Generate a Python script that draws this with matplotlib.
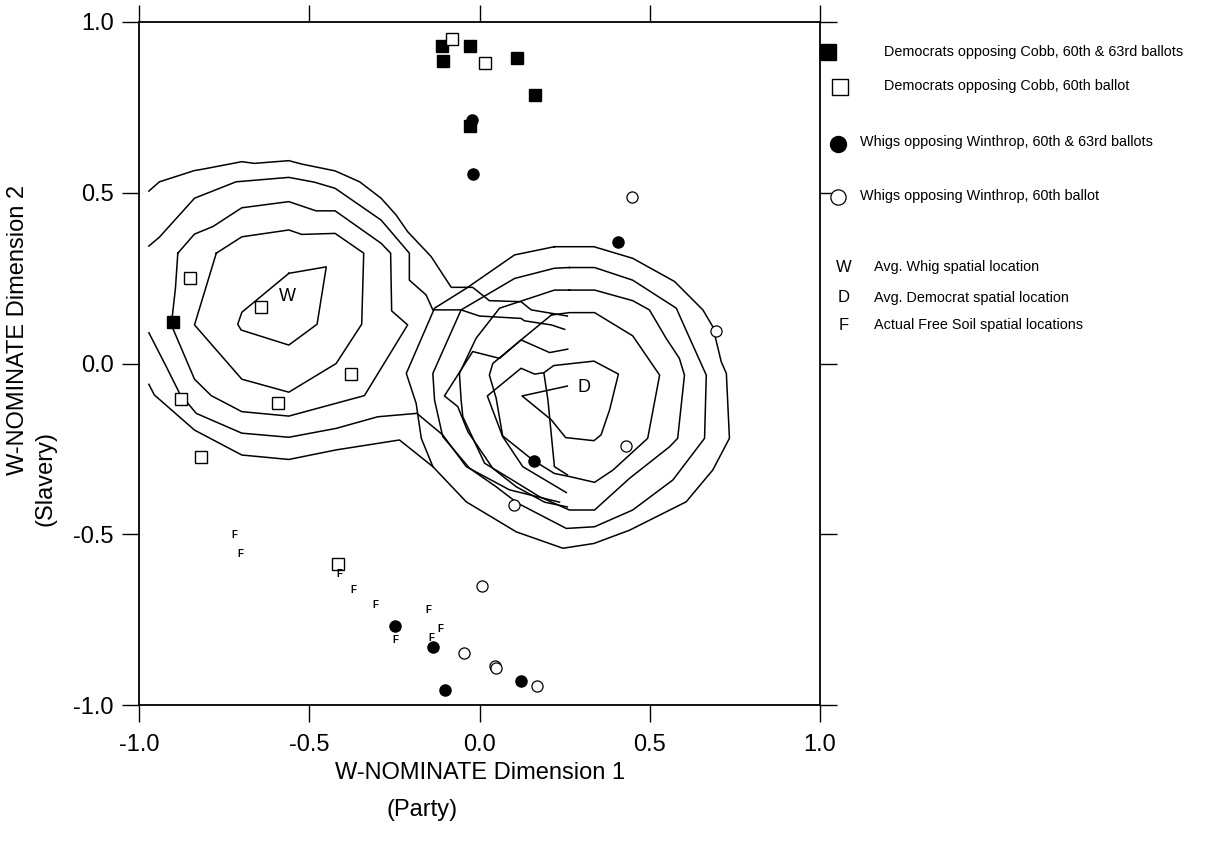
import matplotlib
matplotlib.use("Agg")
import matplotlib.pyplot as plt

plt.rcParams['font.family'] = ['Liberation Sans', 'DejaVu Sans']
plt.rcParams['axes.unicode_minus'] = False

# Legislator positions (W-NOMINATE dims 1 and 2)
dem_both_x = [-0.110, -0.029, -0.108, 0.111, 0.164, -0.029, -0.901]
dem_both_y = [0.930, 0.931, 0.887, 0.895, 0.786, 0.695, 0.122]

dem_60_x = [-0.080, 0.016, -0.849, -0.641, -0.377, -0.592, -0.876, -0.817, -0.417]
dem_60_y = [0.949, 0.881, 0.251, 0.166, -0.032, -0.117, -0.105, -0.273, -0.588]

whig_both_x = [-0.023, -0.018, 0.406, 0.159, -0.248, -0.138, -0.102, 0.122]
whig_both_y = [0.713, 0.554, 0.357, -0.285, -0.768, -0.829, -0.957, -0.931]

whig_60_x = [0.449, 0.695, 0.431, 0.101, 0.007, -0.045, 0.045, 0.049, 0.169]
whig_60_y = [0.488, 0.096, -0.242, -0.414, -0.651, -0.848, -0.886, -0.891, -0.944]

free_soil_x = [-0.720, -0.703, -0.411, -0.370, -0.305, -0.149, -0.114, -0.248, -0.142]
free_soil_y = [-0.502, -0.558, -0.617, -0.663, -0.707, -0.722, -0.777, -0.810, -0.805]

whig_avg = (-0.564, 0.195)
dem_avg = (0.308, -0.069)

# Density contour lines
whig_c1 = [(-0.560, 0.264), (-0.450, 0.283), (-0.477, 0.115), (-0.560, 0.054), (-0.700, 0.098),
           (-0.710, 0.115), (-0.698, 0.150), (-0.560, 0.264)]
whig_c2 = [(-0.773, 0.323), (-0.698, 0.371), (-0.560, 0.391), (-0.522, 0.378), (-0.424, 0.381),
           (-0.340, 0.323), (-0.346, 0.115), (-0.421, 0.000), (-0.560, -0.084), (-0.698, -0.046),
           (-0.837, 0.113), (-0.773, 0.323)]
whig_c3 = [(-0.886, 0.323), (-0.837, 0.379), (-0.783, 0.401), (-0.698, 0.456), (-0.560, 0.474),
           (-0.480, 0.447), (-0.424, 0.447), (-0.289, 0.352), (-0.261, 0.323), (-0.258, 0.154),
           (-0.211, 0.113), (-0.338, -0.094), (-0.560, -0.154), (-0.698, -0.141), (-0.788, -0.094),
           (-0.837, -0.046), (-0.905, 0.113), (-0.893, 0.220), (-0.886, 0.323)]
whig_c4_top = [(-0.971, 0.344), (-0.940, 0.370), (-0.837, 0.484), (-0.715, 0.532), (-0.560, 0.545),
               (-0.485, 0.531), (-0.424, 0.513), (-0.289, 0.420), (-0.235, 0.357), (-0.206, 0.323),
               (-0.206, 0.244), (-0.157, 0.201), (-0.137, 0.157), (-0.054, 0.157), (0.000, 0.139),
               (0.122, 0.132), (0.132, 0.125), (0.211, 0.113), (0.250, 0.100)]
whig_c4_bot = [(-0.971, 0.090), (-0.920, -0.009), (-0.881, -0.087), (-0.832, -0.146), (-0.698, -0.204),
               (-0.560, -0.216), (-0.421, -0.190), (-0.299, -0.156), (-0.184, -0.146), (-0.108, -0.209),
               (-0.039, -0.302), (0.088, -0.370), (0.235, -0.406)]
whig_c5_top = [(-0.971, 0.505), (-0.940, 0.532), (-0.837, 0.565), (-0.813, 0.569), (-0.698, 0.591),
               (-0.661, 0.586), (-0.560, 0.594), (-0.522, 0.584), (-0.424, 0.564), (-0.352, 0.532),
               (-0.289, 0.484), (-0.245, 0.435), (-0.211, 0.386), (-0.142, 0.313), (-0.083, 0.223),
               (-0.020, 0.223), (0.029, 0.184), (0.122, 0.181), (0.152, 0.157), (0.211, 0.147),
               (0.258, 0.139)]
whig_c5_bot = [(-0.971, -0.061), (-0.955, -0.092), (-0.837, -0.195), (-0.698, -0.268), (-0.560, -0.281),
               (-0.421, -0.253), (-0.235, -0.224), (-0.137, -0.302)]
whig_tail_a = [(0.259, 0.042), (0.206, 0.032), (0.122, 0.069), (0.059, 0.015), (-0.020, 0.035),
               (-0.103, -0.095), (-0.064, -0.126), (-0.034, -0.200), (0.039, -0.307), (0.108, -0.361),
               (0.191, -0.406), (0.258, -0.420)]
whig_tail_b = [(0.258, -0.326), (0.220, -0.302), (0.201, -0.107), (0.189, -0.027), (0.162, -0.031),
               (0.122, -0.014), (0.023, -0.095), (0.068, -0.214), (0.127, -0.302), (0.255, -0.378)]

dem_c1 = [(0.258, -0.066), (0.125, -0.095), (0.211, -0.165), (0.253, -0.217), (0.336, -0.226),
          (0.357, -0.209), (0.382, -0.136), (0.408, -0.031), (0.336, 0.007), (0.218, -0.006),
          (0.189, -0.027)]
dem_c2 = [(0.211, 0.142), (0.264, 0.149), (0.338, 0.149), (0.450, 0.081), (0.529, -0.034),
          (0.494, -0.219), (0.392, -0.312), (0.338, -0.348), (0.264, -0.331), (0.220, -0.322),
          (0.157, -0.283), (0.068, -0.212), (0.049, -0.102), (0.029, -0.034), (0.039, 0.000),
          (0.122, 0.069), (0.211, 0.142)]
dem_c3 = [(0.264, 0.215), (0.220, 0.215), (0.117, 0.181), (0.059, 0.162), (-0.010, 0.074),
          (-0.059, -0.029), (-0.054, -0.107), (-0.049, -0.156), (0.015, -0.292), (0.088, -0.336),
          (0.176, -0.390), (0.264, -0.429), (0.338, -0.429), (0.441, -0.336), (0.558, -0.244),
          (0.582, -0.219), (0.602, -0.034), (0.587, 0.015), (0.548, 0.074), (0.499, 0.157),
          (0.450, 0.184), (0.338, 0.215), (0.264, 0.215)]
dem_c4 = [(0.264, 0.281), (0.220, 0.279), (0.103, 0.249), (-0.054, 0.157), (-0.137, -0.029),
          (-0.132, -0.107), (-0.108, -0.214), (-0.029, -0.307), (0.049, -0.361), (0.112, -0.409),
          (0.255, -0.483), (0.338, -0.478), (0.450, -0.429), (0.568, -0.341), (0.661, -0.219),
          (0.666, -0.034), (0.602, 0.108), (0.578, 0.162), (0.450, 0.244), (0.338, 0.281),
          (0.264, 0.281)]
dem_c5 = [(0.220, 0.342), (0.103, 0.318), (-0.039, 0.220), (-0.132, 0.162), (-0.215, -0.029),
          (-0.186, -0.117), (-0.171, -0.219), (-0.137, -0.302), (-0.039, -0.405), (0.108, -0.493),
          (0.245, -0.541), (0.336, -0.527), (0.441, -0.488), (0.607, -0.405), (0.685, -0.312),
          (0.734, -0.219), (0.725, -0.029), (0.710, 0.005), (0.685, 0.108), (0.656, 0.157),
          (0.573, 0.240), (0.450, 0.308), (0.336, 0.342), (0.220, 0.342)]

contours = [whig_c1, whig_c2, whig_c3, whig_c4_top, whig_c4_bot, whig_c5_top, whig_c5_bot,
            whig_tail_a, whig_tail_b, dem_c1, dem_c2, dem_c3, dem_c4, dem_c5]

ticks = [-1.0, -0.5, 0.0, 0.5, 1.0]
tick_labels = ["-1.0", "-0.5", "0.0", "0.5", "1.0"]

legend_labels = ["Democrats opposing Cobb, 60th & 63rd ballots",
                 "Democrats opposing Cobb, 60th ballot",
                 "Whigs opposing Winthrop, 60th & 63rd ballots",
                 "Whigs opposing Winthrop, 60th ballot"]
letter_labels = [("W", "Avg. Whig spatial location"),
                 ("D", "Avg. Democrat spatial location"),
                 ("F", "Actual Free Soil spatial locations")]

W, H = 1225, 841
fig = plt.figure(figsize=(W / 100, H / 100), dpi=100)
ax = fig.add_axes([139 / W, 1 - 705 / H, 681 / W, 683 / H])

for c in contours:
    xs, ys = zip(*c)
    ax.plot(xs, ys, color="black", lw=1.1, zorder=2)

ax.plot(dem_both_x, dem_both_y, "s", ms=8, color="black", zorder=4)
ax.plot(dem_60_x, dem_60_y, "s", ms=8, mfc="white", mec="black", mew=1.0, zorder=4)
ax.plot(whig_both_x, whig_both_y, "o", ms=8, color="black", zorder=4)
ax.plot(whig_60_x, whig_60_y, "o", ms=8, mfc="white", mec="black", mew=0.9, zorder=4)

for x, y in zip(free_soil_x, free_soil_y):
    ax.text(x, y, "F", fontsize=7, fontweight="bold", ha="center", va="center", zorder=5)
ax.text(*whig_avg, "W", fontsize=13, ha="center", va="center", zorder=5)
ax.text(*dem_avg, "D", fontsize=13, ha="center", va="center", zorder=5)

ax.set_xlim(-1, 1)
ax.set_ylim(-1, 1)
ax.set_xticks(ticks)
ax.set_xticklabels(tick_labels)
ax.set_yticks(ticks)
ax.set_yticklabels(tick_labels)
ax.tick_params(direction="out", length=12, width=1, top=True, right=True,
               labeltop=False, labelright=False, labelsize=17)
ax.tick_params(axis="x", pad=9)
ax.tick_params(axis="y", pad=6)
for s in ax.spines.values():
    s.set_linewidth(1.3)

# axis titles
fig.text(480 / W, 1 - 773 / H, "W-NOMINATE Dimension 1", fontsize=17, ha="center", va="center")
fig.text(422 / W, 1 - 810 / H, "(Party)", fontsize=17, ha="center", va="center")
fig.text(18 / W, 1 - 330 / H, "W-NOMINATE Dimension 2", fontsize=17, rotation=90,
         ha="center", va="center")
fig.text(45 / W, 1 - 478 / H, "(Slavery)", fontsize=17, rotation=90, ha="center", va="center")

# legend drawn at the right of the plot
tf = fig.transFigure
ax.plot([828 / W], [1 - 52 / H], "s", ms=11, color="black", transform=tf, clip_on=False)
ax.plot([840 / W], [1 - 87 / H], "s", ms=11, mfc="white", mec="black", mew=1.0,
        transform=tf, clip_on=False)
ax.plot([838 / W], [1 - 144 / H], "o", ms=11.5, color="black", transform=tf, clip_on=False)
ax.plot([838 / W], [1 - 197 / H], "o", ms=11, mfc="white", mec="black", mew=0.9,
        transform=tf, clip_on=False)
fig.text(884 / W, 1 - 52 / H, legend_labels[0], fontsize=10.4, va="center")
fig.text(884 / W, 1 - 86 / H, legend_labels[1], fontsize=10.4, va="center")
fig.text(860 / W, 1 - 142 / H, legend_labels[2], fontsize=10.4, va="center")
fig.text(860 / W, 1 - 196 / H, legend_labels[3], fontsize=10.4, va="center")
for i, (letter, label) in enumerate(letter_labels):
    yy = [267, 298, 325][i]
    fig.text(844 / W, 1 - yy / H, letter, fontsize=12, ha="center", va="center")
    fig.text(874 / W, 1 - yy / H, label, fontsize=10.4, va="center")

fig.savefig("out.png", dpi=100)
